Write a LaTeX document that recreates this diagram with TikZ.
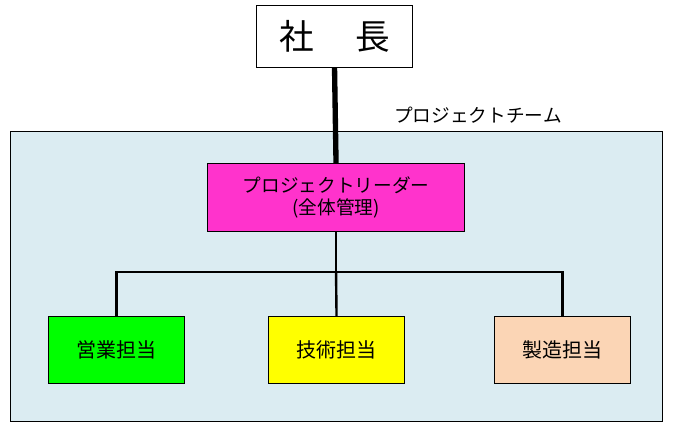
\documentclass[tikz,border=0pt]{standalone}
\usepackage{fontspec}
\setmainfont{Noto Sans CJK JP}
\begin{document}
\begin{tikzpicture}[x=0.75pt,y=-0.75pt,
  box/.style={draw=black,line width=0.8pt,inner sep=0pt,anchor=north west},
  conn/.style={line width=1.8pt}]
\useasboundingbox (0,0) rectangle (674,433);
\node[box,fill=white,minimum width=156*0.75pt,minimum height=62*0.75pt,font=\fontsize{26}{30}\selectfont] (pres) at (256,5) {社\hspace{1.2em}長};
\node[box,fill={rgb,255:red,219;green,236;blue,242},minimum width=652*0.75pt,minimum height=290*0.75pt] (team) at (10,131) {};
\node[anchor=base,font=\fontsize{14}{16}\selectfont] (tlabel) at (478,122) {プロジェクトチーム};
\node[box,fill={rgb,255:red,255;green,51;blue,204},minimum width=257*0.75pt,minimum height=68*0.75pt,align=center,font=\fontsize{14}{17}\selectfont] (lead) at (207,163) {プロジェクトリーダー\\(全体管理)};
\node[box,fill={rgb,255:red,0;green,255;blue,0},minimum width=136*0.75pt,minimum height=67*0.75pt,font=\fontsize{15}{18}\selectfont] (sales) at (48,316) {営業担当};
\node[box,fill={rgb,255:red,255;green,255;blue,0},minimum width=136*0.75pt,minimum height=67*0.75pt,font=\fontsize{15}{18}\selectfont] (tech) at (268,316) {技術担当};
\node[box,fill={rgb,255:red,251;green,213;blue,181},minimum width=136*0.75pt,minimum height=67*0.75pt,font=\fontsize{15}{18}\selectfont] (mfg) at (494,316) {製造担当};
\draw[line width=4pt] (pres.south) -- (lead.north);
\coordinate (j) at (lead.south |- 0,272);
\draw[conn] (lead.south) -- (j);
\draw[conn] (sales.north) |- (j) -| (mfg.north);
\draw[conn] (j) -- (tech.north);
\end{tikzpicture}
\end{document}
